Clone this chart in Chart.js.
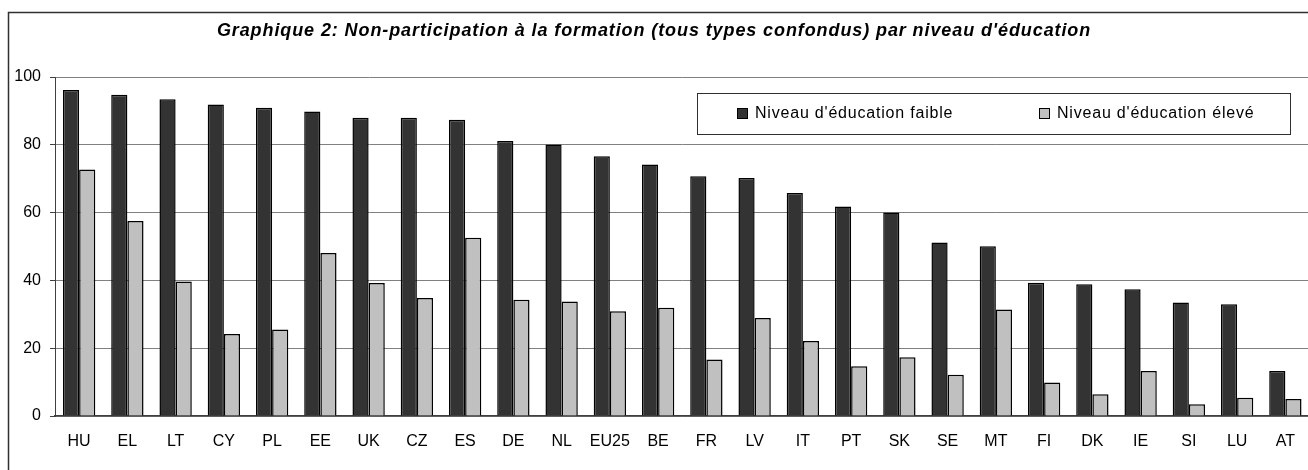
<!DOCTYPE html>
<html>
<head>
<meta charset="utf-8">
<script src="https://cdn.jsdelivr.net/npm/chart.js@4"></script>
<style>
  html, body { margin: 0; padding: 0; background: #fff; overflow: hidden; }
  #wrap { width: 1311px; height: 470px; position: relative; }
</style>
</head>
<body>
<div id="wrap"><canvas id="chart"></canvas></div>
<script>
const titleText = "Graphique 2: Non-participation à la formation (tous types confondus) par niveau d'éducation";

const pays = ['HU', 'EL', 'LT', 'CY', 'PL', 'EE', 'UK', 'CZ', 'ES', 'DE', 'NL', 'EU25', 'BE',
  'FR', 'LV', 'IT', 'PT', 'SK', 'SE', 'MT', 'FI', 'DK', 'IE', 'SI', 'LU', 'AT'];

const faible = [96.2, 94.8, 93.4, 91.9, 90.9, 89.8, 88.0, 88.0, 87.4, 81.1, 80.1, 76.6, 74.2,
  70.7, 70.2, 65.8, 61.8, 60.0, 51.2, 50.1, 39.3, 38.9, 37.4, 33.5, 33.0, 13.3];

const eleve = [72.7, 57.5, 39.7, 24.2, 25.5, 48.1, 39.2, 34.8, 52.6, 34.3, 33.8, 30.9, 31.9,
  16.7, 28.9, 22.1, 14.7, 17.3, 12.2, 31.4, 9.9, 6.4, 13.3, 3.5, 5.4, 5.0];

const yTicks = [0, 20, 40, 60, 80, 100];

const fontFam = "'Liberation Sans', Arial, sans-serif";

// cadre, titre et légende dessinés à la main
const decor = {
  id: 'decor',
  beforeDraw(chart) {
    const c = chart.ctx;
    c.save();
    c.fillStyle = '#fff';
    c.fillRect(0, 0, chart.width, chart.height);
    c.restore();
  },
  afterDraw(chart) {
    const c = chart.ctx;
    c.save();
    // cadre extérieur
    c.strokeStyle = '#303030';
    c.lineWidth = 1.5;
    c.strokeRect(8.5, 12.5, 1400, 600);

    // titre
    c.fillStyle = '#000';
    c.font = 'italic bold 18px ' + fontFam;
    c.letterSpacing = '0.9px';
    c.textAlign = 'center';
    c.textBaseline = 'middle';
    c.fillText(titleText, 654, 31);

    // légende
    c.fillStyle = '#fff';
    c.fillRect(697, 93, 593, 41);
    c.strokeStyle = '#303030';
    c.lineWidth = 1;
    c.strokeRect(697.5, 93.5, 593, 41);
    c.font = '16px ' + fontFam;
    c.letterSpacing = '0.8px';
    c.textAlign = 'left';
    const xs = [737, 1039];
    chart.data.datasets.forEach((ds, i) => {
      c.fillStyle = ds.backgroundColor;
      c.fillRect(xs[i] + 0.5, 108.5, 10, 10);
      c.strokeStyle = '#000';
      c.strokeRect(xs[i] + 0.5, 108.5, 10, 10);
      c.fillStyle = '#000';
      c.fillText(ds.label, xs[i] + 18, 114);
    });
    c.restore();
  }
};

new Chart(document.getElementById('chart'), {
  type: 'bar',
  data: {
    labels: pays,
    datasets: [
      {
        label: "Niveau d'éducation faible",
        data: faible,
        backgroundColor: '#333333',
        borderColor: '#000',
        borderWidth: 1.5,
        categoryPercentage: 0.67,
        barPercentage: 1
      },
      {
        label: "Niveau d'éducation élevé",
        data: eleve,
        backgroundColor: '#c0c0c0',
        borderColor: '#000',
        borderWidth: 1.5,
        categoryPercentage: 0.67,
        barPercentage: 1
      }
    ]
  },
  options: {
    responsive: true,
    maintainAspectRatio: false,
    animation: false,
    devicePixelRatio: 1,
    layout: { padding: { top: 77, left: 0, right: 0, bottom: 0 } },
    plugins: {
      legend: { display: false },
      title: { display: false },
      tooltip: { enabled: false }
    },
    scales: {
      x: {
        grid: { display: false, drawTicks: false },
        border: { color: '#404040', width: 1.5 },
        ticks: { color: '#000', font: { family: fontFam, size: 16 }, padding: 16, maxRotation: 0, autoSkip: false },
        afterFit(scale) { scale.height = 54; }
      },
      y: {
        min: 0,
        max: 100,
        afterBuildTicks(scale) { scale.ticks = yTicks.map(v => ({ value: v })); },
        grid: { color: '#808080', lineWidth: 1, tickLength: 5, tickColor: '#404040' },
        border: { color: '#404040', width: 1 },
        ticks: { color: '#000', font: { family: fontFam, size: 16 }, padding: 9 },
        afterFit(scale) { scale.width = 55; }
      }
    }
  },
  plugins: [decor]
});
</script>
</body>
</html>
